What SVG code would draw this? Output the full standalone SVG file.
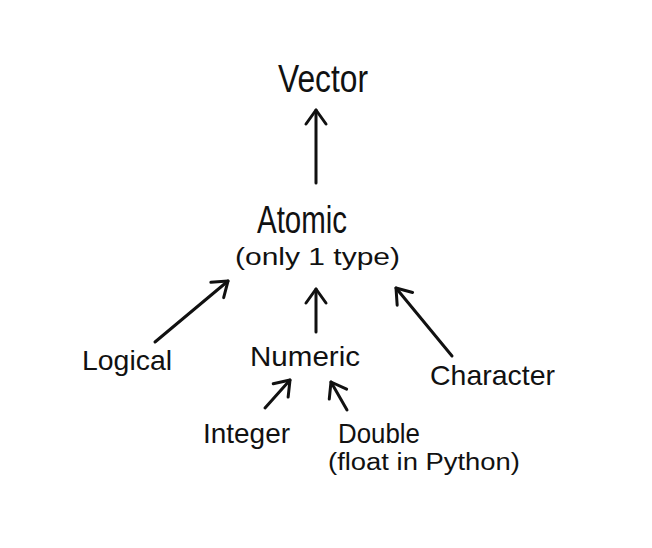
<svg xmlns="http://www.w3.org/2000/svg" width="652" height="548" viewBox="0 0 652 548">
<style>
text{font-family:"Liberation Sans","DejaVu Sans",sans-serif;fill:#111;}
.big{font-size:38px;}
.mid{font-size:28px;}
.small{font-size:23px;}
.c{fill:none;stroke:#111;stroke-width:3;stroke-linecap:round;stroke-linejoin:round;}
</style>
<defs>
<marker id="ah" markerUnits="userSpaceOnUse" markerWidth="40" markerHeight="40" refX="20" refY="20" orient="auto" viewBox="0 0 40 40">
<path d="M6,10 L20,20 L6,30" fill="none" stroke="#111" stroke-width="3" stroke-linecap="round" stroke-linejoin="round"/>
</marker>
</defs>
<rect width="652" height="548" fill="#fff"/>
<g id="connectors">
<path class="c" d="M316,183 L316,110" marker-end="url(#ah)"/>
<path class="c" d="M155,342 L228,281" marker-end="url(#ah)"/>
<path class="c" d="M316,332 L316,289" marker-end="url(#ah)"/>
<path class="c" d="M452,356 L396,288" marker-end="url(#ah)"/>
<path class="c" d="M265,408 L290,380" marker-end="url(#ah)"/>
<path class="c" d="M347,410 L331,382" marker-end="url(#ah)"/>
</g>
<g id="vector"><text class="big" x="278" y="92" textLength="90" lengthAdjust="spacingAndGlyphs">Vector</text></g>
<g id="atomic">
<text class="big" x="257" y="233" textLength="90" lengthAdjust="spacingAndGlyphs">Atomic</text>
<text class="small" x="235" y="265" textLength="165" lengthAdjust="spacingAndGlyphs">(only 1 type)</text>
</g>
<g id="logical"><text class="mid" x="82" y="370" textLength="90" lengthAdjust="spacingAndGlyphs">Logical</text></g>
<g id="numeric"><text class="mid" x="250" y="366" textLength="110" lengthAdjust="spacingAndGlyphs">Numeric</text></g>
<g id="character"><text class="mid" x="430" y="385" textLength="125" lengthAdjust="spacingAndGlyphs">Character</text></g>
<g id="integer"><text class="mid" x="203" y="443" textLength="87" lengthAdjust="spacingAndGlyphs">Integer</text></g>
<g id="double">
<text class="mid" x="338" y="443" textLength="82" lengthAdjust="spacingAndGlyphs">Double</text>
<text class="small" x="328" y="470" textLength="192" lengthAdjust="spacingAndGlyphs">(float in Python)</text>
</g>
</svg>
